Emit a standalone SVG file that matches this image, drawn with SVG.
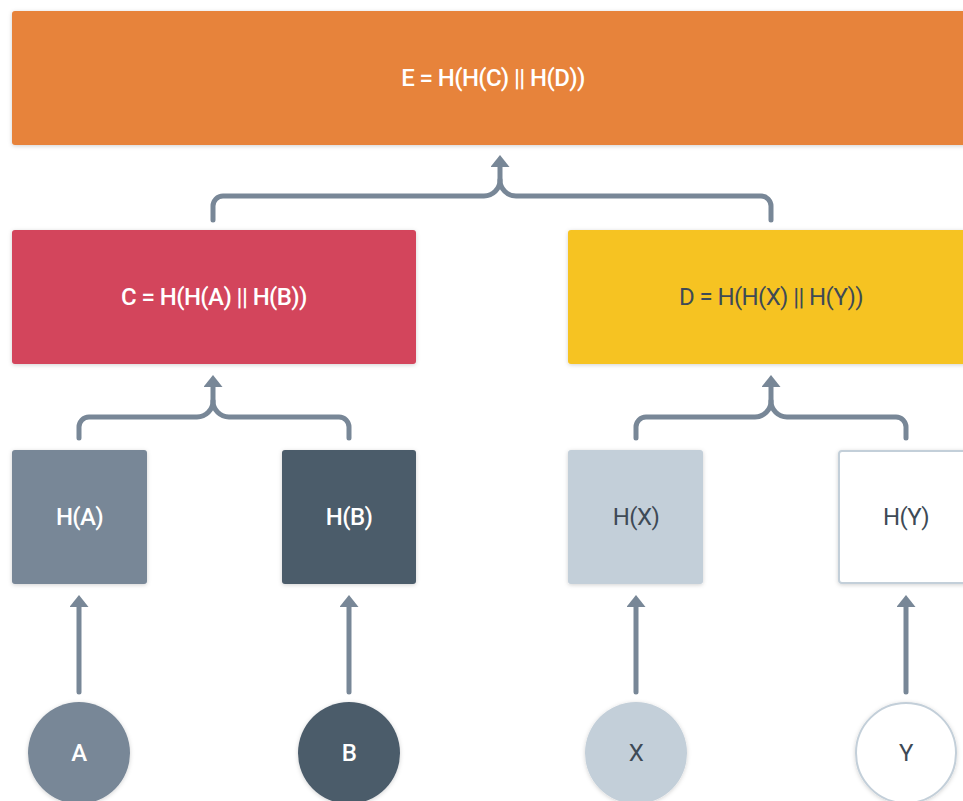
<svg xmlns="http://www.w3.org/2000/svg" width="963" height="801" viewBox="0 0 963 801">
<defs>
<filter id="sh" x="-10%" y="-10%" width="120%" height="130%">
<feDropShadow dx="0" dy="1" stdDeviation="2" flood-color="#000" flood-opacity="0.18"/>
</filter>
<marker id="ah" markerUnits="userSpaceOnUse" viewBox="0 0 12 19" refX="0" refY="9.5" markerWidth="12" markerHeight="19" orient="auto">
<path d="M0,0 L12,9.5 L0,19 Z" fill="#788797"/>
</marker>
</defs>
<style>
.lbl{font-family:Roboto,"Liberation Sans",sans-serif;font-size:24px;letter-spacing:-0.6px;text-anchor:middle}
.w{fill:#ffffff;font-weight:500}
.d{fill:#3e4a56;font-weight:400}
.con{fill:none;stroke:#788797;stroke-width:5;stroke-linecap:round;stroke-linejoin:round}
</style>
<rect width="963" height="801" fill="#ffffff"/>
<g id="connectors">
<path class="con" d="M213,220 V206 A10,10 0 0 1 223,196 H484 A16,16 0 0 0 500,180 V167" marker-end="url(#ah)"/>
<path class="con" d="M771,220 V206 A10,10 0 0 0 761,196 H516 A16,16 0 0 1 500,180"/>
<path class="con" d="M79,438 V427 A10,10 0 0 1 89,417 H197 A16,16 0 0 0 213,401 V387" marker-end="url(#ah)"/>
<path class="con" d="M349,438 V427 A10,10 0 0 0 339,417 H229 A16,16 0 0 1 213,401"/>
<path class="con" d="M636,438 V427 A10,10 0 0 1 646,417 H755 A16,16 0 0 0 771,401 V387" marker-end="url(#ah)"/>
<path class="con" d="M906,438 V427 A10,10 0 0 0 896,417 H787 A16,16 0 0 1 771,401"/>
<path class="con" d="M79,692 V607" marker-end="url(#ah)"/>
<path class="con" d="M349,692 V607" marker-end="url(#ah)"/>
<path class="con" d="M636,692 V607" marker-end="url(#ah)"/>
<path class="con" d="M906,692 V607" marker-end="url(#ah)"/>
</g>
<g id="E">
<rect x="12" y="11" width="976" height="134" rx="3" fill="#e7833a" filter="url(#sh)"/>
<text class="lbl w" x="493" y="86">E = H(H(C) || H(D))</text>
</g>
<g id="C">
<rect x="12" y="230" width="404" height="134" rx="3" fill="#d3455b" filter="url(#sh)"/>
<text class="lbl w" x="214" y="305">C = H(H(A) || H(B))</text>
</g>
<g id="D">
<rect x="568" y="230" width="406" height="134" rx="3" fill="#f6c324" filter="url(#sh)"/>
<text class="lbl d" x="771" y="305">D = H(H(X) || H(Y))</text>
</g>
<g id="HA">
<rect x="12" y="450" width="135" height="134" rx="3" fill="#788797" filter="url(#sh)"/>
<text class="lbl w" x="79.5" y="525">H(A)</text>
</g>
<g id="HB">
<rect x="282" y="450" width="134" height="134" rx="3" fill="#4b5c6b" filter="url(#sh)"/>
<text class="lbl w" x="349" y="525">H(B)</text>
</g>
<g id="HX">
<rect x="568" y="450" width="135" height="134" rx="3" fill="#c3cfd9" filter="url(#sh)"/>
<text class="lbl d" x="636" y="525">H(X)</text>
</g>
<g id="HY">
<rect x="839" y="451" width="134" height="132" rx="3" fill="#ffffff" stroke="#c3cfd9" stroke-width="2" filter="url(#sh)"/>
<text class="lbl d" x="906" y="525">H(Y)</text>
</g>
<g id="A">
<circle cx="79" cy="753" r="51" fill="#788797" filter="url(#sh)"/>
<text class="lbl w" x="79" y="761">A</text>
</g>
<g id="B">
<circle cx="349" cy="753" r="51" fill="#4b5c6b" filter="url(#sh)"/>
<text class="lbl w" x="349" y="761">B</text>
</g>
<g id="X">
<circle cx="636" cy="753" r="51" fill="#c3cfd9" filter="url(#sh)"/>
<text class="lbl d" x="636" y="761">X</text>
</g>
<g id="Y">
<circle cx="906" cy="753" r="50" fill="#ffffff" stroke="#c3cfd9" stroke-width="2" filter="url(#sh)"/>
<text class="lbl d" x="906" y="761">Y</text>
</g>
</svg>
